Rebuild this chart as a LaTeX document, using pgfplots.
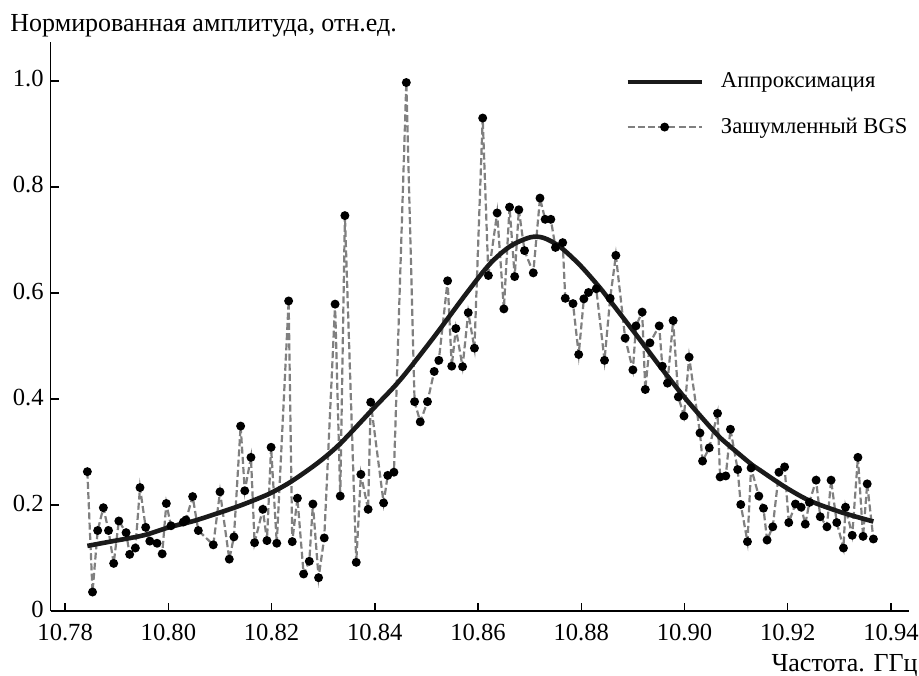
\documentclass[border=0pt]{standalone}
\usepackage{fontspec}
\setmainfont{Liberation Serif}
\usepackage{pgfplots}
\pgfplotsset{compat=1.18}
\definecolor{fitcol}{RGB}{26,26,26}
\definecolor{noisecol}{RGB}{128,128,128}

\begin{document}
\begin{tikzpicture}
\begin{axis}[
    scale only axis,
    width=429pt, height=284.6pt,
    xmin=10.7772, xmax=10.9435,
    ymin=0, ymax=1.074,
    axis lines*=left,
    axis line style={line width=0.75pt},
    tick align=inside,
    major tick length=4pt,
    tick style={line width=0.75pt, black},
    xtick={10.78,10.80,10.82,10.84,10.86,10.88,10.90,10.92,10.94},
    xticklabels={10.78,10.80,10.82,10.84,10.86,10.88,10.90,10.92,10.94},
    ytick={0,0.2,0.4,0.6,0.8,1.0},
    yticklabels={0,0.2,0.4,0.6,0.8,1.0},
    ticklabel style={font=\fontsize{12.3}{14}\selectfont},
    xticklabel style={yshift=-3pt},
    yticklabel style={yshift=1pt},
    /pgf/number format/assume math mode=true,
    clip=false,
    reverse legend,
    legend cell align=left,
    legend style={draw=none, fill=none, at={(0.662,0.96)}, anchor=north west,
                  row sep=9.5pt, font=\fontsize{11.3}{13}\selectfont,
                  /tikz/every odd column/.append style={column sep=6.5pt}},
    legend image code/.code={%
        \draw[mark repeat=2, mark phase=2, #1]
            plot coordinates {(0pt,0pt) (18.5pt,0pt) (37pt,0pt)};},
]
% noisy measured spectrum
\addplot[noisecol, line width=1.1pt, dash pattern=on 3.5pt off 1.6pt,
         mark=*, mark size=1.65pt, mark options={solid, fill=black, draw=black}]
coordinates {
(10.7843,0.263) (10.7853,0.036) (10.7863,0.152) (10.7874,0.195) (10.7884,0.152)
(10.7894,0.090) (10.7904,0.170) (10.7918,0.148) (10.7925,0.107) (10.7936,0.119)
(10.7945,0.233) (10.7956,0.158) (10.7964,0.132) (10.7978,0.128) (10.7988,0.108)
(10.7996,0.203) (10.8005,0.161) (10.8029,0.168) (10.8034,0.172) (10.8047,0.216)
(10.8058,0.152) (10.8087,0.125) (10.8100,0.225) (10.8118,0.098) (10.8127,0.140)
(10.8140,0.349) (10.8148,0.227) (10.8160,0.290) (10.8167,0.129) (10.8183,0.192)
(10.8191,0.133) (10.8199,0.309) (10.8210,0.128) (10.8233,0.585) (10.8240,0.131)
(10.8250,0.213) (10.8262,0.070) (10.8273,0.094) (10.8280,0.202) (10.8291,0.063)
(10.8302,0.138) (10.8323,0.579) (10.8333,0.217) (10.8342,0.746) (10.8364,0.092)
(10.8373,0.258) (10.8387,0.192) (10.8392,0.394) (10.8417,0.204) (10.8425,0.256)
(10.8437,0.262) (10.8461,0.997) (10.8477,0.395) (10.8488,0.357) (10.8502,0.395)
(10.8515,0.452) (10.8524,0.473) (10.8541,0.623) (10.8549,0.462) (10.8557,0.533)
(10.8570,0.461) (10.8581,0.563) (10.8593,0.496) (10.8609,0.930) (10.8620,0.633)
(10.8637,0.751) (10.8650,0.570) (10.8661,0.762) (10.8671,0.631) (10.8679,0.757)
(10.8690,0.680) (10.8707,0.638) (10.8720,0.779) (10.8730,0.739) (10.8741,0.739)
(10.8750,0.686) (10.8764,0.695) (10.8769,0.590) (10.8784,0.580) (10.8795,0.484)
(10.8805,0.589) (10.8814,0.601) (10.8829,0.608) (10.8845,0.473) (10.8856,0.590)
(10.8867,0.671) (10.8885,0.515) (10.8900,0.455) (10.8906,0.538) (10.8918,0.564)
(10.8924,0.418) (10.8933,0.506) (10.8951,0.538) (10.8957,0.462) (10.8967,0.430)
(10.8978,0.548) (10.8988,0.404) (10.8999,0.368) (10.9009,0.479) (10.9030,0.336)
(10.9035,0.283) (10.9048,0.308) (10.9064,0.373) (10.9069,0.253) (10.9080,0.255)
(10.9089,0.343) (10.9103,0.267) (10.9109,0.201) (10.9122,0.131) (10.9129,0.270)
(10.9144,0.217) (10.9153,0.194) (10.9160,0.134) (10.9171,0.159) (10.9183,0.262)
(10.9194,0.272) (10.9202,0.167) (10.9215,0.202) (10.9226,0.196) (10.9234,0.164)
(10.9242,0.205) (10.9255,0.247) (10.9263,0.178) (10.9276,0.159) (10.9284,0.247)
(10.9295,0.167) (10.9308,0.119) (10.9312,0.196) (10.9325,0.143) (10.9336,0.290)
(10.9346,0.141) (10.9354,0.240) (10.9366,0.136)
};
\addlegendentry{Зашумленный BGS}
% fitted curve
\addplot[fitcol, line width=2.3pt, smooth] coordinates {
(10.7843,0.123) (10.7887,0.131) (10.7952,0.143) (10.8001,0.158) (10.8049,0.170)
(10.8100,0.186) (10.8139,0.199) (10.8178,0.214) (10.8201,0.224) (10.8239,0.245)
(10.8290,0.280) (10.8333,0.316) (10.8397,0.382) (10.8449,0.436) (10.8513,0.515)
(10.8578,0.600) (10.8623,0.655) (10.8662,0.688) (10.8701,0.705) (10.8727,0.704)
(10.8759,0.687) (10.8798,0.652) (10.8836,0.610) (10.8856,0.585) (10.8905,0.523)
(10.8953,0.461) (10.9000,0.403) (10.9049,0.348) (10.9069,0.327) (10.9127,0.279)
(10.9146,0.266) (10.9195,0.234) (10.9243,0.208) (10.9305,0.186) (10.9366,0.169)
};
\addlegendentry{Аппроксимация}
\coordinate (bl) at (rel axis cs:0,0);
\coordinate (tr) at (rel axis cs:1,1);
\node[anchor=base west, inner sep=0, font=\fontsize{13}{15}\selectfont]
    at ([xshift=-20.35pt,yshift=5.35pt]rel axis cs:0,1) {Нормированная амплитуда, отн.ед.};
\node[anchor=base east, inner sep=0, font=\fontsize{13}{15}\selectfont]
    at ([xshift=4.5pt,yshift=-30pt]rel axis cs:1,0) {Частота. ГГц};
\end{axis}
\pgfresetboundingbox
\path ([xshift=-25.35pt,yshift=-32pt]bl) rectangle ([xshift=5pt,yshift=20.85pt]tr);
\end{tikzpicture}
\end{document}
